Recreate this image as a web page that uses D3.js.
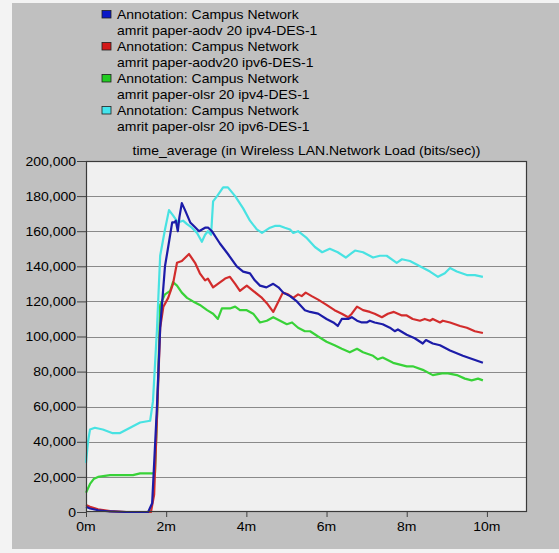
<!DOCTYPE html>
<html>
<head>
<meta charset="utf-8">
<script src="https://cdn.jsdelivr.net/npm/d3@7"></script>
<style>
html,body{margin:0;padding:0;background:#f3f3f3;}
svg{display:block;}
</style>
</head>
<body>
<script>
// ---- data (time in minutes, values in bits/sec) ----
const seriesNames = ["amrit paper-aodv 20 ipv4-DES-1","amrit paper-aodv20 ipv6-DES-1","amrit paper-olsr 20 ipv4-DES-1","amrit paper-olsr 20 ipv6-DES-1"];
const annotation = "Annotation: Campus Network";
const title = "time_average (in Wireless LAN.Network Load (bits/sec))";
const yTicks = [0,20000,40000,60000,80000,100000,120000,140000,160000,180000,200000];
const xTicks = [0,2,4,6,8,10];

const aodv4T = [0,0.1,0.3,0.6,1.0,1.55,1.65,1.77,1.85,1.97,2.05,2.15,2.2,2.24,2.29,2.33,2.39,2.47,2.6,2.69,2.82,2.97,3.05,3.14,3.34,3.54,3.76,3.92,4.09,4.21,4.34,4.5,4.67,4.8,4.92,5.09,5.26,5.46,5.59,5.79,6.0,6.17,6.28,6.38,6.54,6.63,6.76,6.88,7.0,7.08,7.2,7.4,7.58,7.7,7.78,8.0,8.2,8.4,8.48,8.65,8.83,9.08,9.4,9.9];
const aodv4V = [3000,2000,1000,300,0,0,5000,60000,105000,140000,151000,165000,165000,166000,160000,168000,176000,172000,165000,163000,160000,162000,162000,160000,153000,147000,140000,137000,136000,132000,129000,128000,130000,128000,125000,123000,120000,115000,114000,113000,110000,108000,106000,110000,110000,111000,109000,108000,108000,109000,108000,107000,105000,103000,104000,101000,99000,96000,98000,96000,95000,92000,89000,85000];

const aodv6T = [0,0.1,0.3,0.6,1.0,1.62,1.7,1.78,1.85,1.93,2.05,2.17,2.27,2.39,2.57,2.72,2.84,2.97,3.04,3.17,3.29,3.47,3.59,3.72,3.84,4.01,4.17,4.39,4.51,4.67,4.8,4.91,5.04,5.17,5.29,5.38,5.48,5.63,5.79,6.0,6.2,6.38,6.54,6.63,6.76,6.91,7.08,7.2,7.38,7.53,7.68,7.88,8.0,8.15,8.33,8.45,8.58,8.65,8.83,8.9,9.08,9.33,9.5,9.7,9.9];
const aodv6V = [4000,3000,1500,500,0,0,10000,60000,105000,117000,122000,130000,142000,143000,147000,142000,136000,132000,133000,128000,130000,133000,134000,130000,126000,129000,126000,122000,119000,114000,120000,125000,124000,122000,124000,123000,125000,123000,121000,118000,115000,113000,111000,113000,117000,115000,114000,113000,111000,113000,114000,112000,112000,110000,109000,110000,109000,110000,108000,109000,108000,106000,105000,103000,102000];

const olsr4T = [0,0.1,0.2,0.3,0.6,0.9,1.17,1.35,1.67,1.72,1.78,1.85,1.97,2.1,2.17,2.27,2.39,2.52,2.67,2.84,3.02,3.17,3.29,3.39,3.59,3.72,3.84,4.01,4.17,4.34,4.51,4.67,4.84,5.01,5.14,5.29,5.46,5.59,5.79,6.0,6.2,6.38,6.58,6.76,6.91,7.16,7.28,7.4,7.66,8.0,8.15,8.4,8.65,8.88,9.03,9.25,9.45,9.62,9.78,9.9];
const olsr4V = [11000,16000,19000,20000,21000,21000,21000,22000,22000,22000,60000,118000,124000,126000,131000,129000,125000,122000,120000,118000,115000,113000,110000,116000,116000,117000,115000,115000,113000,108000,109000,111000,109000,107000,108000,105000,103000,103000,100000,97000,95000,93000,91000,93000,91000,89000,87000,88000,85000,83000,83000,81000,78000,79000,79000,78000,76000,75000,76000,75000];

const olsr6T = [0,0.05,0.1,0.22,0.42,0.65,0.85,1.1,1.35,1.6,1.67,1.77,1.85,1.97,2.07,2.17,2.29,2.42,2.52,2.64,2.77,2.89,2.97,3.04,3.12,3.17,3.27,3.42,3.54,3.72,3.92,4.09,4.26,4.39,4.59,4.71,4.84,4.96,5.09,5.17,5.29,5.51,5.71,5.89,6.08,6.28,6.48,6.71,6.91,7.16,7.33,7.5,7.75,7.88,8.08,8.33,8.58,8.78,8.95,9.08,9.25,9.5,9.7,9.9];
const olsr6V = [28000,40000,47000,48000,47000,45000,45000,48000,51000,52000,63000,104000,146000,161000,172000,169000,165000,166000,164000,162000,159000,154000,158000,160000,158000,177000,180000,185000,185000,180000,173000,166000,161000,159000,162000,163000,163000,162000,161000,159000,160000,156000,151000,148000,150000,148000,145000,149000,148000,145000,146000,146000,142000,144000,143000,140000,137000,134000,136000,139000,137000,135000,135000,134000];

const lineColors = ["#1c1ca8","#d22c2c","#38d238","#48e2e2"];
const swatchColors = ["#0a18c8","#d41818","#22cc22","#44e4ec"];

// ---- layout ----
const W = 559, H = 553;
const plot = {left:86, right:527, top:161, bottom:512};
const FS = 12.6, SX = 1.11;
const FONT = "'Liberation Sans', Arial, Helvetica, sans-serif";

const svg = d3.select("body").append("svg").attr("width",W).attr("height",H);

svg.append("rect").attr("x",12).attr("y",3).attr("width",W-12).attr("height",546).attr("fill","#c0c0c0");

const x = d3.scaleLinear().domain([0,11]).range([plot.left,plot.right]);
const y = d3.scaleLinear().domain([0,200000]).range([plot.bottom,plot.top]);

function txt(g, tx, ty, s, anchor){
  return g.append("text")
    .attr("transform",`translate(${tx},${ty}) scale(${SX},1)`)
    .attr("text-anchor",anchor||"start")
    .attr("font-family",FONT).attr("font-size",FS).attr("fill","#000")
    .text(s);
}

// plot background
svg.append("rect").attr("x",plot.left).attr("y",plot.top)
  .attr("width",plot.right-plot.left).attr("height",plot.bottom-plot.top).attr("fill","#f0f0f0");

// grid
svg.append("g").selectAll("line").data(yTicks.slice(1,-1)).join("line")
  .attr("x1",plot.left).attr("x2",plot.right)
  .attr("y1",d=>Math.round(y(d))+0.5).attr("y2",d=>Math.round(y(d))+0.5)
  .attr("stroke","#8a8a8a").attr("stroke-width",1.2);

// y axis
const yAxis = d3.axisLeft(y).tickValues(yTicks).tickSize(9).tickFormat("");
const gy = svg.append("g").attr("transform",`translate(${plot.left},0)`).call(yAxis);
gy.select(".domain").remove();
gy.selectAll("line").attr("stroke","#404040");
const fmt = d3.format(",");
yTicks.forEach(v=>txt(svg, 76, y(v)+4.6, fmt(v), "end"));

// x axis
const xAxis = d3.axisBottom(x).tickValues(xTicks).tickSize(5).tickFormat("");
const gx = svg.append("g").attr("transform",`translate(0,${plot.bottom})`).call(xAxis);
gx.select(".domain").remove();
gx.selectAll("line").attr("stroke","#404040");
xTicks.forEach(v=>txt(svg, x(v), 531, v+"m", "middle"));

// series
const line = d3.line().x(d=>x(d[0])).y(d=>y(d[1]));
const series = [[aodv4T,aodv4V],[aodv6T,aodv6V],[olsr4T,olsr4V],[olsr6T,olsr6V]];
const drawOrder = [2,3,1,0];
drawOrder.forEach(i=>{
  const [T,V] = series[i];
  const pts = T.map((t,k)=>[t,V[k]]);
  svg.append("path").datum(pts).attr("d",line)
    .attr("fill","none").attr("stroke",lineColors[i]).attr("stroke-width",2.2)
    .attr("stroke-linejoin","round");
});

// border
svg.append("rect").attr("x",plot.left+0.5).attr("y",plot.top+0.5)
  .attr("width",plot.right-plot.left-1).attr("height",plot.bottom-plot.top-1)
  .attr("fill","none").attr("stroke","#3a3a3a").attr("stroke-width",1.2);

// title
txt(svg, (plot.left+plot.right)/2, 155, title, "middle");

// legend
seriesNames.forEach((n,i)=>{
  const b1 = 19 + 32*i;
  svg.append("rect").attr("x",102).attr("y",b1-8.5).attr("width",9).attr("height",7.5)
    .attr("fill",swatchColors[i]).attr("stroke","#202020").attr("stroke-width",0.8);
  txt(svg, 117, b1, annotation, "start");
  txt(svg, 117, b1+16, n, "start");
});
</script>
</body>
</html>
